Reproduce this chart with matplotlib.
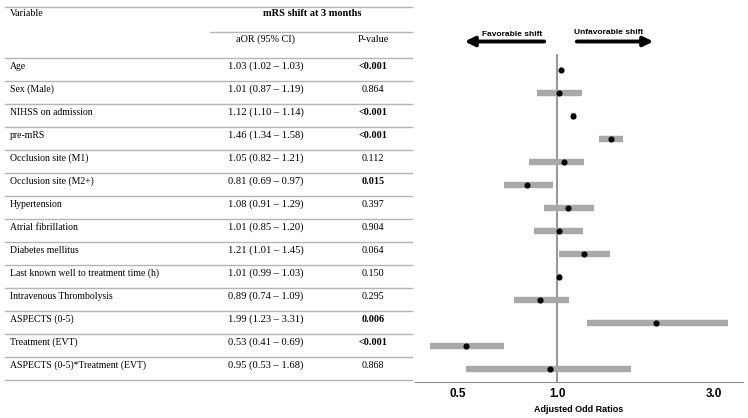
import numpy as np
import matplotlib
matplotlib.use("Agg")
import matplotlib.pyplot as plt

# table / forest data
variables = ["Age", "Sex (Male)", "NIHSS on admission", "pre-mRS",
             "Occlusion site (M1)", "Occlusion site (M2+)", "Hypertension",
             "Atrial fibrillation", "Diabetes mellitus",
             "Last known well to treatment time (h)", "Intravenous Thrombolysis",
             "ASPECTS (0-5)", "Treatment (EVT)", "ASPECTS (0-5)*Treatment (EVT)"]
aor = [1.03, 1.01, 1.12, 1.46, 1.05, 0.81, 1.08, 1.01, 1.21, 1.01, 0.89, 1.99, 0.53, 0.95]
ci_lo = [1.02, 0.87, 1.10, 1.34, 0.82, 0.69, 0.91, 0.85, 1.01, 0.99, 0.74, 1.23, 0.41, 0.53]
ci_hi = [1.03, 1.19, 1.14, 1.58, 1.21, 0.97, 1.29, 1.20, 1.45, 1.03, 1.09, 3.31, 0.69, 1.68]
pvals = ["<0.001", "0.864", "<0.001", "<0.001", "0.112", "0.015", "0.397",
         "0.904", "0.064", "0.150", "0.295", "0.006", "<0.001", "0.868"]
xticks = [0.5, 1.0, 3.0]

W, H = 748, 418
fig = plt.figure(figsize=(W / 100, H / 100), dpi=100)

# ---- table part, drawn in pixel coordinates
ax_t = fig.add_axes([0, 0, 1, 1])
ax_t.set_xlim(0, W)
ax_t.set_ylim(H, 0)
ax_t.axis("off")

serif = "Liberation Serif"
line_col = "#b4b4b4"
row_top = 58
row_h = 23
n = len(variables)

ax_t.plot([5, 412], [7, 7], color=line_col, lw=1)
ax_t.plot([210, 412], [32, 32], color=line_col, lw=1)
for k in range(n + 1):
    y = row_top + k * row_h
    ax_t.plot([5, 412], [y, y], color=line_col, lw=1)

ax_t.text(10, 14, "Variable", family=serif, fontsize=7.2, va="center")
ax_t.text(312, 14, "mRS shift at 3 months", family=serif, fontsize=7.5,
          weight="bold", ha="center", va="center")
ax_t.text(266, 39, "aOR (95% CI)", family=serif, fontsize=7.3, ha="center", va="center")
ax_t.text(373, 39, "P-value", family=serif, fontsize=7.3, ha="center", va="center")

for i, name in enumerate(variables):
    y = row_top + i * row_h + 8.5
    ax_t.text(10, y, name, family=serif, fontsize=7.0, va="center")
    ax_t.text(266, y, "%.2f (%.2f \u2013 %.2f)" % (aor[i], ci_lo[i], ci_hi[i]),
              family=serif, fontsize=7.6, ha="center", va="center")
    p = pvals[i]
    sig = p.startswith("<") or float(p) < 0.05
    ax_t.text(373, y, p, family=serif, fontsize=7.3, ha="center", va="center",
              weight="bold" if sig else "normal")

# arrows above forest plot
sans = "Liberation Sans"
ax_t.text(512, 34, "Favorable shift", family=sans, fontsize=6, weight="bold",
          ha="center", va="center")
ax_t.text(609, 33, "Unfavorable shift", family=sans, fontsize=6, weight="bold",
          ha="center", va="center")
ax_t.annotate("", xy=(462, 41.5), xytext=(547, 41.5),
              arrowprops=dict(arrowstyle="-|>", lw=2.8, color="black", mutation_scale=14))
ax_t.annotate("", xy=(656, 41.5), xytext=(574, 41.5),
              arrowprops=dict(arrowstyle="-|>", lw=2.8, color="black", mutation_scale=14))

# ---- forest plot
ax_top, ax_bot = 50, 382
ax_l, ax_r = 415, 743
ax = fig.add_axes([ax_l / W, 1 - ax_bot / H, (ax_r - ax_l) / W, (ax_bot - ax_top) / H])
ax.patch.set_alpha(0)
ax.set_xscale("log")
ax.set_xlim(0.37, 3.67)
centre0 = row_top + row_h / 2
ax.set_ylim((ax_bot - centre0) / row_h, (ax_top - centre0) / row_h)

rows = np.arange(n)
ax.axvline(1.0, color="#8c8c8c", lw=1.3, zorder=1, ymax=(ax_bot - 55) / (ax_bot - ax_top))
ax.hlines(rows, ci_lo, ci_hi, color="#a8a8a8", lw=4.6, zorder=2)
ax.plot(aor, rows, "o", color="black", ms=3.4, zorder=3)

for s in ["top", "left", "right"]:
    ax.spines[s].set_visible(False)
ax.spines["bottom"].set_color("#8c8c8c")
ax.set_yticks([])
ax.set_xticks(xticks)
ax.set_xticklabels(["%.1f" % t for t in xticks], family=sans, weight="bold", fontsize=8.5)
ax.minorticks_off()
ax.tick_params(axis="x", length=0, pad=4)
ax.set_xlabel("Adjusted Odd Ratios", family=sans, weight="bold", fontsize=6.5, labelpad=4)

fig.savefig("out.png", dpi=100)
